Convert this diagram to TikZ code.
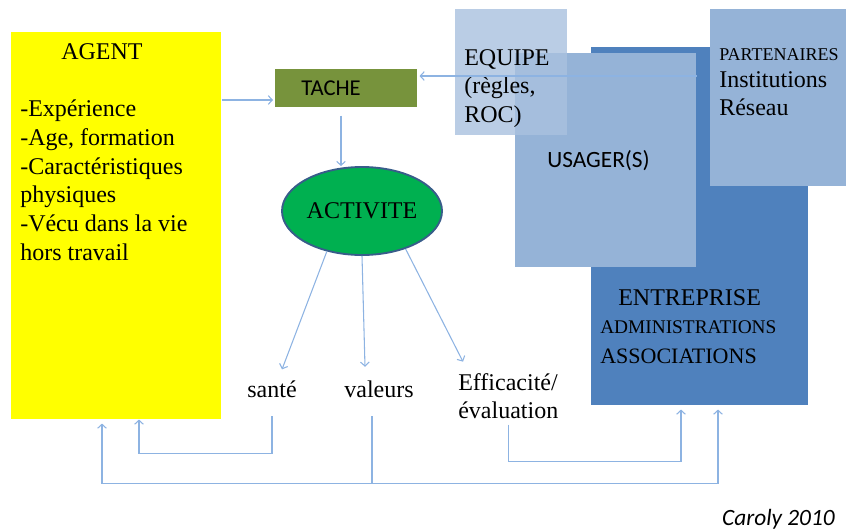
\documentclass[tikz,border=0pt]{standalone}
\usepackage{fontspec}
\setmainfont{Liberation Serif}
\newfontfamily\calibri{Carlito}
\usetikzlibrary{calc,shapes.geometric,arrows.meta,positioning}

\definecolor{agentyellow}{HTML}{FFFF00}
\definecolor{tacheolive}{HTML}{77933C}
\definecolor{activgreen}{HTML}{00B050}
\definecolor{activborder}{HTML}{385D8A}
\definecolor{bluedark}{HTML}{4F81BD}
\definecolor{bluemid}{HTML}{95B3D7}
\definecolor{bluelight}{HTML}{A9C1DF}
\definecolor{linkblue}{HTML}{8DB3E2}

\tikzset{
  box/.style={rectangle, anchor=north west, inner sep=0pt},
  txt/.style={inner sep=0pt, font=\fontsize{18}{21.5}\selectfont},
  link/.style={draw=linkblue, line width=0.8pt},
  >={Straight Barb[length=3pt,width=6.5pt]}
}

\begin{document}
\begin{tikzpicture}[x=0.75pt,y=-0.75pt]
\useasboundingbox (0,0) rectangle (846,529);
% boxes
\node[box, fill=agentyellow, minimum width=157.5pt, minimum height=290.25pt] (agent) at (11,32) {};
\node[box, fill=bluedark, minimum width=162.75pt, minimum height=268.5pt] (entreprise) at (591,47) {};
\node[box, fill=bluemid, minimum width=135.75pt, minimum height=160.5pt, inner xsep=24pt,
  text width=87.75pt, align=left, font=\calibri\fontsize{17.5}{21}\selectfont] (usager) at (515,53) {USAGER(S)};
\node[box, fill=bluelight, fill opacity=0.8, minimum width=84pt, minimum height=94.5pt] (equipe) at (455,9) {};
\node[box, fill=bluemid, minimum width=102pt, minimum height=132.75pt] (partenaires) at (710,9) {};
\node[box, fill=tacheolive, minimum width=106.5pt, minimum height=28.5pt, inner xsep=19.5pt,
  text width=67.5pt, align=left, font=\calibri\fontsize{17}{20}\selectfont] (tache) at (275,69) {TACHE};
\node[ellipse, draw=activborder, line width=1.4pt, fill=activgreen, minimum width=120pt,
  minimum height=66pt, inner sep=0pt, txt] (activite) at (362,211) {ACTIVITE};

% texts
\node[txt, anchor=base] (agenttitle) at (102,59) {AGENT};
\node[txt, anchor=north west, align=left] (agentlist) at (20,100)
  {-Expérience\\-Age, formation\\-Caractéristiques\\physiques\\-Vécu dans la vie\\hors travail};
\node[txt, anchor=north west, align=left] (equipetxt) at (464,49) {EQUIPE\\(règles,\\ROC)};
\node[txt, anchor=base west, font=\fontsize{13.5}{16}\selectfont] (partenairestitle) at (719,60) {PARTENAIRES};
\node[txt, anchor=base west] (institutions) at (719,87) {Institutions};
\node[txt, anchor=base west] (reseau) at (719,115) {Réseau};
\node[txt, anchor=base west] (entreprisetxt) at (618,305) {ENTREPRISE};
\node[txt, anchor=base west, font=\fontsize{14.5}{17}\selectfont] (administrations) at (600,333) {ADMINISTRATIONS};
\node[txt, anchor=base west, font=\fontsize{16.5}{19}\selectfont] (associations) at (600,363) {ASSOCIATIONS};
\node[txt, anchor=base] (sante) at (272,397) {santé};
\node[txt, anchor=base] (valeurs) at (379,397) {valeurs};
\node[txt, anchor=north west, align=left] (efficacite) at (458,373) {Efficacité/\\évaluation};
\node[txt, anchor=base east, font=\calibri\itshape\fontsize{17.5}{21}\selectfont] (source) at (835,525) {Caroly 2010};

% connectors
\draw[link,->,shorten >=1.5pt] (agent.east |- 0,100) -- (tache.west |- 0,100);
\draw[link,->,shorten >=1.5pt] (usager.east |- 0,76) -- (tache.east |- 0,76);
\draw[link,->,shorten <=6pt] (tache.south -| 341,0) -- (activite.north -| 341,0);
\draw[link,->] (activite.229) -- ([xshift=7.5pt,yshift=8pt]sante.north);
\draw[link,->] (activite.south) -- ([xshift=-10.5pt,yshift=10pt]valeurs.north);
\draw[link,->] (activite.319) -- ([xshift=3.75pt,yshift=8.5pt]efficacite.north west);
\draw[link,->] ([yshift=-14pt]sante.south) -- ++(0,37) -| ($(agent.south west)+(128,0)$);
\draw[link] ([xshift=-5.25pt,yshift=-14pt]valeurs.south) -- ++(0,67);
\draw[link,<->] ($(agent.south west)+(91,4)$) -- ++(0,60) -| ($(entreprise.south west)+(127,4)$);
\draw[link,->] ([yshift=-4pt]efficacite.south) -- ++(0,37) -| ($(entreprise.south west)+(90,4)$);
\end{tikzpicture}
\end{document}
